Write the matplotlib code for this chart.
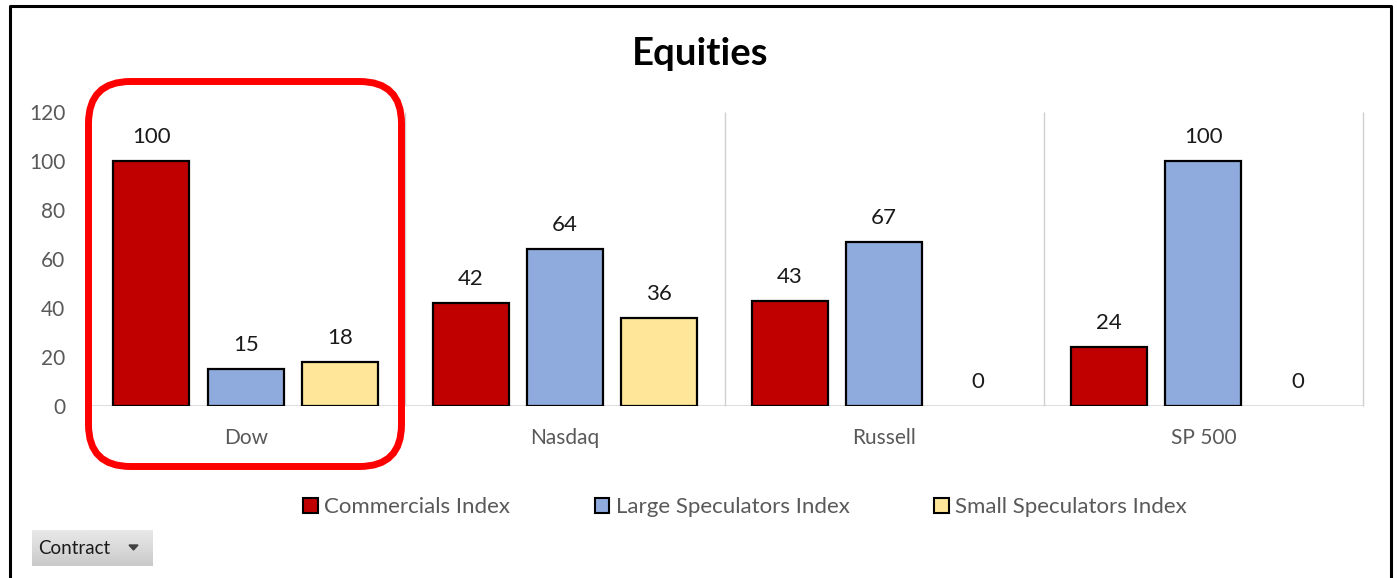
import matplotlib.pyplot as plt
import numpy as np
from matplotlib.patches import FancyBboxPatch, Patch

plt.rcParams["font.family"] = ["Lato", "DejaVu Sans"]

contracts = ["Dow", "Nasdaq", "Russell", "SP 500"]
series_names = ["Commercials Index", "Large Speculators Index", "Small Speculators Index"]
commercials = [100, 42, 43, 24]
large_specs = [15, 64, 67, 100]
small_specs = [18, 36, 0, 0]
colors = ["#C00000", "#8FAADC", "#FFE699"]
y_ticks = [0, 20, 40, 60, 80, 100, 120]

W, H = 1397, 578
fig = plt.figure(figsize=(W / 100, H / 100), dpi=100)
ax = fig.add_axes([86 / W, 1 - 406 / H, (1363 - 86) / W, (406 - 112) / H])

x = np.arange(len(contracts))
offsets = [-0.295, 0.0, 0.295]
for vals, off, c, name in zip([commercials, large_specs, small_specs], offsets, colors, series_names):
    lws = [1.6 if v > 0 else 0 for v in vals]
    ax.bar(x + off, vals, width=0.238, color=c, edgecolor="black", linewidth=lws, zorder=3)
    for xi, v in zip(x + off, vals):
        ax.annotate(str(v), (xi, v), xytext=(0, 13), textcoords="offset points",
                    ha="center", va="baseline", fontsize=16, color="#1a1a1a")

ax.vlines(np.arange(len(contracts) + 1) - 0.5, 0, 120, color="#D0D0D0", lw=1, zorder=1, clip_on=False)
ax.axhline(0, color="#D9D9D9", lw=2, zorder=2)
ax.set_xlim(-0.5, len(contracts) - 0.5)
ax.set_ylim(0, 120)
for s in ax.spines.values():
    s.set_visible(False)
ax.set_yticks(y_ticks)
ax.set_xticks(x)
ax.set_xticklabels(contracts)
ax.tick_params(axis="y", length=0, pad=15, labelsize=15, labelcolor="#595959")
ax.tick_params(axis="x", length=0, pad=16, labelsize=15, labelcolor="#595959")

fig.text(700 / W, 1 - 54 / H, "Equities", fontsize=27.5, fontweight="bold", ha="center", va="center")

handles = [Patch(facecolor=c, edgecolor="black", linewidth=1.5, label=n) for c, n in zip(colors, series_names)]
fig.legend(handles=handles, loc="center", bbox_to_anchor=(745 / W, 1 - 507 / H), ncol=3, frameon=False,
           fontsize=16, handlelength=0.65, handleheight=0.65, handletextpad=0.3, columnspacing=3.8,
           labelcolor="#595959")

# overlay in pixel coordinates: frame, highlight box, filter button
ov = fig.add_axes([0, 0, 1, 1], zorder=10)
ov.set_xlim(0, W)
ov.set_ylim(H, 0)
ov.axis("off")
ov.patch.set_alpha(0)
ov.plot([10, 10, 1391, 1391], [578, 6, 6, 578], color="black", lw=2.2)
ov.add_patch(FancyBboxPatch((88.5, 81.5), 313, 385, boxstyle="round,pad=0,rounding_size=42",
                            facecolor="none", edgecolor="#FF0000", lw=5))
grad = np.linspace(0.91, 0.79, 50).reshape(-1, 1)
ov.imshow(grad, cmap="gray", vmin=0, vmax=1, extent=(32, 153, 566, 530), aspect="auto", zorder=1)
ov.set_xlim(0, W)
ov.set_ylim(H, 0)
ov.text(38, 548, "Contract", fontsize=13.5, color="#1a1a1a", ha="left", va="center", zorder=2)
ov.fill([129, 138, 133.5], [545, 545, 550], color="#404040", zorder=2)

fig.savefig("out.png", dpi=100, facecolor="white")
